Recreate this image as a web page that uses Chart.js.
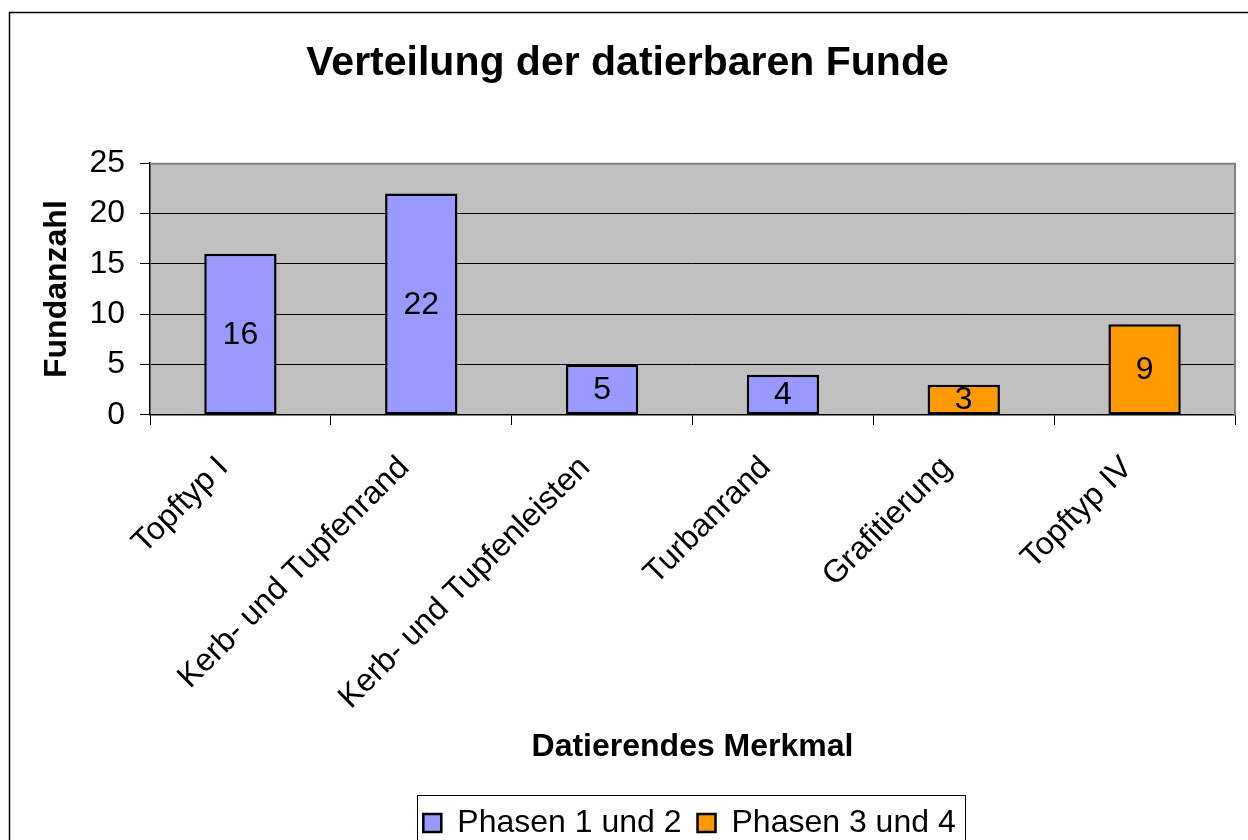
<!DOCTYPE html>
<html>
<head>
<meta charset="utf-8">
<script src="https://cdn.jsdelivr.net/npm/chart.js@4"></script>
<style>
  html, body { margin: 0; padding: 0; background: #fff; overflow: hidden; }
  #wrap { position: relative; width: 1248px; height: 840px; overflow: hidden; }
</style>
</head>
<body>
<div id="wrap"><canvas id="c" width="1248" height="849"></canvas></div>
<script>
// ===== 数据 =====
const categories = ['Topftyp I', 'Kerb- und Tupfenrand', 'Kerb- und Tupfenleisten', 'Turbanrand', 'Grafitierung', 'Topftyp IV'];
const phase12 = [16, 22, 5, 4, null, null];
const phase34 = [null, null, null, null, 3, 9];
const seriesNames = ['Phasen 1 und 2', 'Phasen 3 und 4'];
const yTicks = [0, 5, 10, 15, 20, 25];

const FONT = '"Liberation Sans", Arial, sans-serif';

// 图例整体右移，和原图一样居中在绘图区下方
const legendShift = {
  id: 'legendShift',
  afterUpdate(chart) {
    const lg = chart.legend;
    lg.left += 62;
    lg.right += 62;
    lg.adjustHitBoxes();
  },
};

// 灰色绘图区 + 外框 + 图例框
const frame = {
  id: 'frame',
  beforeDraw(chart) {
    const { ctx, chartArea: a } = chart;
    ctx.save();
    ctx.fillStyle = '#fff';
    ctx.fillRect(0, 0, chart.width, chart.height);
    ctx.fillStyle = '#c0c0c0';
    ctx.fillRect(a.left, a.top, a.right - a.left, a.bottom - a.top);
    ctx.restore();
  },
  afterDraw(chart) {
    const { ctx, chartArea: a } = chart;
    ctx.save();
    ctx.strokeStyle = '#808080';
    ctx.lineWidth = 2;
    ctx.beginPath();
    ctx.moveTo(a.left, a.top + 0.5);
    ctx.lineTo(a.right, a.top + 0.5);
    ctx.lineTo(a.right, a.bottom);
    ctx.stroke();
    // 整体外框
    ctx.strokeStyle = '#000';
    ctx.lineWidth = 1.5;
    ctx.strokeRect(9.5, 12.5, chart.width + 20, chart.height + 20);
    // 图例框
    const boxes = chart.legend.legendHitBoxes;
    if (boxes && boxes.length) {
      const last = boxes[boxes.length - 1];
      const l = boxes[0].left - 6;
      const r = last.left + last.width + 10;
      ctx.lineWidth = 1;
      ctx.strokeRect(Math.round(l) + 0.5, 795.5, Math.round(r - l), 80);
    }
    ctx.restore();
  },
};

// 柱内数值
const valueLabels = {
  id: 'valueLabels',
  afterDatasetsDraw(chart) {
    const { ctx } = chart;
    ctx.save();
    ctx.font = '32px ' + FONT;
    ctx.fillStyle = '#000';
    ctx.textAlign = 'center';
    ctx.textBaseline = 'middle';
    chart.data.datasets.forEach((ds, i) => {
      chart.getDatasetMeta(i).data.forEach((bar, j) => {
        const v = ds.data[j];
        if (v == null) return;
        ctx.fillText(String(v), bar.x, (bar.y + bar.base) / 2 + 1);
      });
    });
    ctx.restore();
  },
};

new Chart(document.getElementById('c'), {
  type: 'bar',
  data: {
    labels: categories,
    datasets: [
      { label: seriesNames[0], data: phase12, backgroundColor: '#9999ff', borderColor: '#000', borderWidth: 2.5, borderSkipped: false },
      { label: seriesNames[1], data: phase34, backgroundColor: '#ff9900', borderColor: '#000', borderWidth: 2.5, borderSkipped: false },
    ],
  },
  options: {
    responsive: false,
    animation: false,
    layout: { padding: { left: 20, right: 13, top: 0, bottom: 0 } },
    datasets: { bar: { categoryPercentage: 1, barPercentage: 0.4 } },
    plugins: {
      title: {
        display: true,
        text: 'Verteilung der datierbaren Funde',
        color: '#000',
        font: { family: FONT, size: 41, weight: 'bold' },
        padding: { top: 39, bottom: 75 },
      },
      legend: {
        position: 'bottom',
        labels: {
          color: '#000',
          font: { family: FONT, size: 32 },
          boxWidth: 18,
          boxHeight: 18,
          padding: 16,
        },
      },
      tooltip: { enabled: false },
    },
    scales: {
      x: {
        stacked: true,
        grid: { display: true, drawOnChartArea: false, offset: true, color: '#000', tickLength: 10 },
        border: { color: '#000', width: 1.5 },
        ticks: { color: '#000', font: { family: FONT, size: 32 }, maxRotation: 45, minRotation: 45, padding: 24, labelOffset: -17 },
        title: {
          display: true,
          text: 'Datierendes Merkmal',
          color: '#000',
          font: { family: FONT, size: 32, weight: 'bold' },
          padding: { top: 0, bottom: 25 },
        },
        afterFit(s) { s.height = 376; },
      },
      y: {
        stacked: true,
        min: 0,
        max: 25,
        afterBuildTicks(s) { s.ticks = yTicks.map((v) => ({ value: v })); },
        grid: { color: '#000', lineWidth: 1, tickLength: 10 },
        border: { color: '#000', width: 1.5 },
        ticks: { color: '#000', font: { family: FONT, size: 32 }, padding: 15 },
        title: {
          display: true,
          text: 'Fundanzahl',
          color: '#000',
          font: { family: FONT, size: 32, weight: 'bold' },
          padding: { top: 18, bottom: 0 },
        },
        afterFit(s) { s.width = 130; },
      },
    },
  },
  plugins: [legendShift, frame, valueLabels],
});
</script>
</body>
</html>
